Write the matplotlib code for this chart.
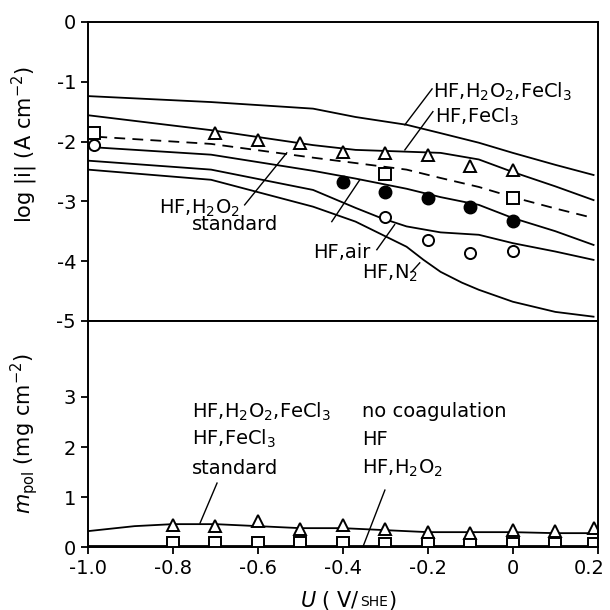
import numpy as np
import matplotlib
matplotlib.use("Agg")
import matplotlib.pyplot as plt
import matplotlib.transforms as mtransforms
from matplotlib.offsetbox import TextArea, HPacker, AnnotationBbox

plt.rcParams['font.family'] = ['DejaVu Sans']
plt.rcParams['mathtext.fontset'] = 'dejavusans'
plt.rcParams['axes.unicode_minus'] = False

# potential U (V/SHE) at which the current curves were read
u_curve = [-1.0, -0.71, -0.47, -0.37, -0.25, -0.17, -0.08, 0.0, 0.1, 0.19]

# log|i| curves (A cm-2)
i_h2o2_fecl3 = [-1.24, -1.34, -1.45, -1.59, -1.72, -1.86, -2.02, -2.19, -2.39, -2.56]
i_fecl3 = [-1.56, -1.81, -2.06, -2.14, -2.17, -2.19, -2.30, -2.51, -2.75, -2.98]
u_h2o2 = [-0.98, -0.71, -0.47, -0.37, -0.25, -0.17, -0.08, 0.0, 0.1, 0.19]
i_h2o2 = [-1.92, -2.04, -2.27, -2.36, -2.47, -2.61, -2.76, -2.93, -3.12, -3.28]
i_standard = [-2.09, -2.22, -2.49, -2.62, -2.79, -2.93, -3.06, -3.28, -3.50, -3.73]
u_air = [-1.0, -0.71, -0.47, -0.37, -0.31, -0.25, -0.17, -0.08, 0.0, 0.1, 0.19]
i_air = [-2.32, -2.47, -2.81, -3.11, -3.28, -3.42, -3.52, -3.56, -3.70, -3.84, -3.98]
u_n2 = [-1.0, -0.71, -0.47, -0.37, -0.25, -0.21, -0.17, -0.12, -0.08, 0.0, 0.1, 0.19]
i_n2 = [-2.47, -2.64, -3.09, -3.34, -3.76, -3.98, -4.18, -4.36, -4.48, -4.68, -4.85, -4.93]

# measured points
u_tri = [-0.7, -0.6, -0.5, -0.4, -0.3, -0.2, -0.1, 0.0]
i_tri = [-1.86, -1.97, -2.03, -2.17, -2.20, -2.22, -2.41, -2.47]
u_sq = [-0.985, -0.3, 0.0]
i_sq = [-1.86, -2.55, -2.94]
u_dot = [-0.4, -0.3, -0.2, -0.1, 0.0]
i_dot = [-2.67, -2.85, -2.95, -3.09, -3.33]
u_ring = [-0.985, -0.3, -0.2, -0.1, 0.0]
i_ring = [-2.06, -3.27, -3.65, -3.86, -3.83]

# polymer mass m_pol (mg cm-2)
u_mcurve = [-1.0, -0.89, -0.8, -0.7, -0.6, -0.5, -0.4, -0.3, -0.2, -0.1, 0.0, 0.1, 0.2]
m_curve = [0.32, 0.42, 0.46, 0.46, 0.42, 0.38, 0.38, 0.34, 0.30, 0.30, 0.30, 0.28, 0.28]
u_mpts = [-0.8, -0.7, -0.6, -0.5, -0.4, -0.3, -0.2, -0.1, 0.0, 0.1, 0.19]
m_tri = [0.44, 0.42, 0.52, 0.36, 0.44, 0.36, 0.30, 0.28, 0.34, 0.32, 0.38]
m_sq = [0.08, 0.08, 0.08, 0.08, 0.08, 0.07, 0.07, 0.05, 0.07, 0.06, 0.07]
u_nocoag = [-1.0, 0.2]
m_nocoag = [0.015, 0.015]

top_ticks = [0, -1, -2, -3, -4, -5]
bot_ticks = [0, 1, 2, 3]
u_ticks = [-1.0, -0.8, -0.6, -0.4, -0.2, 0.0, 0.2]
u_labels = ['-1.0', '-0.8', '-0.6', '-0.4', '-0.2', '0', '0.2']

fs = 14
lw = 1.3
fig = plt.figure(figsize=(6.1, 6.1), dpi=100)
ax1 = fig.add_axes([0.144, 0.474, 0.836, 0.49])
ax2 = fig.add_axes([0.144, 0.103, 0.836, 0.371])

# upper panel: current density
ax1.plot(u_curve, i_h2o2_fecl3, 'k-', lw=lw)
ax1.plot(u_curve, i_fecl3, 'k-', lw=lw)
ax1.plot(u_h2o2, i_h2o2, 'k--', lw=lw, dashes=(6, 4))
ax1.plot(u_curve, i_standard, 'k-', lw=lw)
ax1.plot(u_air, i_air, 'k-', lw=lw)
ax1.plot(u_n2, i_n2, 'k-', lw=lw)
ax1.plot(u_tri, i_tri, '^', ms=8, mfc='white', mec='k', mew=1.4)
ax1.plot(u_sq, i_sq, 's', ms=9, mfc='white', mec='k', mew=1.4)
ax1.plot(u_dot, i_dot, 'o', ms=9, mfc='k', mec='k')
ax1.plot(u_ring, i_ring, 'o', ms=8, mfc='white', mec='k', mew=1.4)

ax1.set_xlim(-1.0, 0.2)
ax1.set_ylim(-5, 0)
ax1.set_yticks(top_ticks)
ax1.set_yticklabels([str(t) for t in top_ticks])
ax1.set_xticks([])
ax1.set_ylabel('log |i| (A cm$^{-2}$)', fontsize=fs + 1)
ax1.yaxis.set_label_coords(-0.094, 0.59)

lead = dict(color='k', lw=1.0)
ax1.text(-0.188, -1.17, 'HF,H$_2$O$_2$,FeCl$_3$', fontsize=fs, va='center')
ax1.plot([-0.19, -0.254], [-1.12, -1.72], **lead)
ax1.text(-0.184, -1.59, 'HF,FeCl$_3$', fontsize=fs, va='center')
ax1.plot([-0.188, -0.254], [-1.50, -2.14], **lead)
ax1.text(-0.642, -3.11, 'HF,H$_2$O$_2$', fontsize=fs, va='center', ha='right')
ax1.plot([-0.631, -0.532], [-3.06, -2.19], **lead)
ax1.text(-0.755, -3.39, 'standard', fontsize=fs, va='center')
ax1.plot([-0.426, -0.36], [-3.34, -2.64], **lead)
ax1.text(-0.47, -3.85, 'HF,air', fontsize=fs, va='center')
ax1.plot([-0.32, -0.278], [-3.81, -3.39], **lead)
ax1.text(-0.355, -4.2, 'HF,N$_2$', fontsize=fs, va='center')
ax1.plot([-0.238, -0.219], [-4.18, -4.03], **lead)

# lower panel: polymer mass
ax2.plot(u_mcurve, m_curve, 'k-', lw=lw)
ax2.plot(u_nocoag, m_nocoag, 'k-', lw=lw)
ax2.plot(u_mpts, m_tri, '^', ms=8, mfc='white', mec='k', mew=1.4)
ax2.plot(u_mpts, m_sq, 's', ms=8, mfc='white', mec='k', mew=1.4)

ax2.set_xlim(-1.0, 0.2)
ax2.set_ylim(0, 4.52)
ax2.set_yticks(bot_ticks)
ax2.set_yticklabels([str(t) for t in bot_ticks])
ax2.set_xticks(u_ticks)
ax2.set_xticklabels(u_labels)
ax2.set_ylabel('$m_{\\mathrm{pol}}$ (mg cm$^{-2}$)', fontsize=fs + 1)
ax2.yaxis.set_label_coords(-0.094, 0.5)

col1 = ['HF,H$_2$O$_2$,FeCl$_3$', 'HF,FeCl$_3$', 'standard']
col2 = ['no coagulation', 'HF', 'HF,H$_2$O$_2$']
rows = [2.70, 2.16, 1.58]
for y, a, b in zip(rows, col1, col2):
    ax2.text(-0.755, y, a, fontsize=fs, va='center')
    ax2.text(-0.355, y, b, fontsize=fs, va='center')
ax2.plot([-0.696, -0.736], [1.28, 0.48], **lead)
ax2.plot([-0.301, -0.353], [1.14, 0.0], **lead)

for ax in (ax1, ax2):
    for s in ax.spines.values():
        s.set_linewidth(1.4)
    ax.tick_params(direction='out', length=5, width=1.3, labelsize=fs)

# keep the last tick label inside the figure
last = ax2.get_xticklabels()[-1]
last.set_transform(last.get_transform() +
                   mtransforms.ScaledTranslation(-6 / 72, 0, fig.dpi_scale_trans))

# x label with small-caps SHE
parts = [TextArea('$U$ ( V/', textprops=dict(size=fs + 1)),
         TextArea('SHE', textprops=dict(size=fs - 4)),
         TextArea(')', textprops=dict(size=fs + 1))]
box = HPacker(children=parts, align='baseline', pad=0, sep=0)
fig.add_artist(AnnotationBbox(box, (348 / 610, 1 - 600 / 610), xycoords='figure fraction',
                              frameon=False, box_alignment=(0.5, 0.5)))

fig.savefig('out.png', dpi=100)
